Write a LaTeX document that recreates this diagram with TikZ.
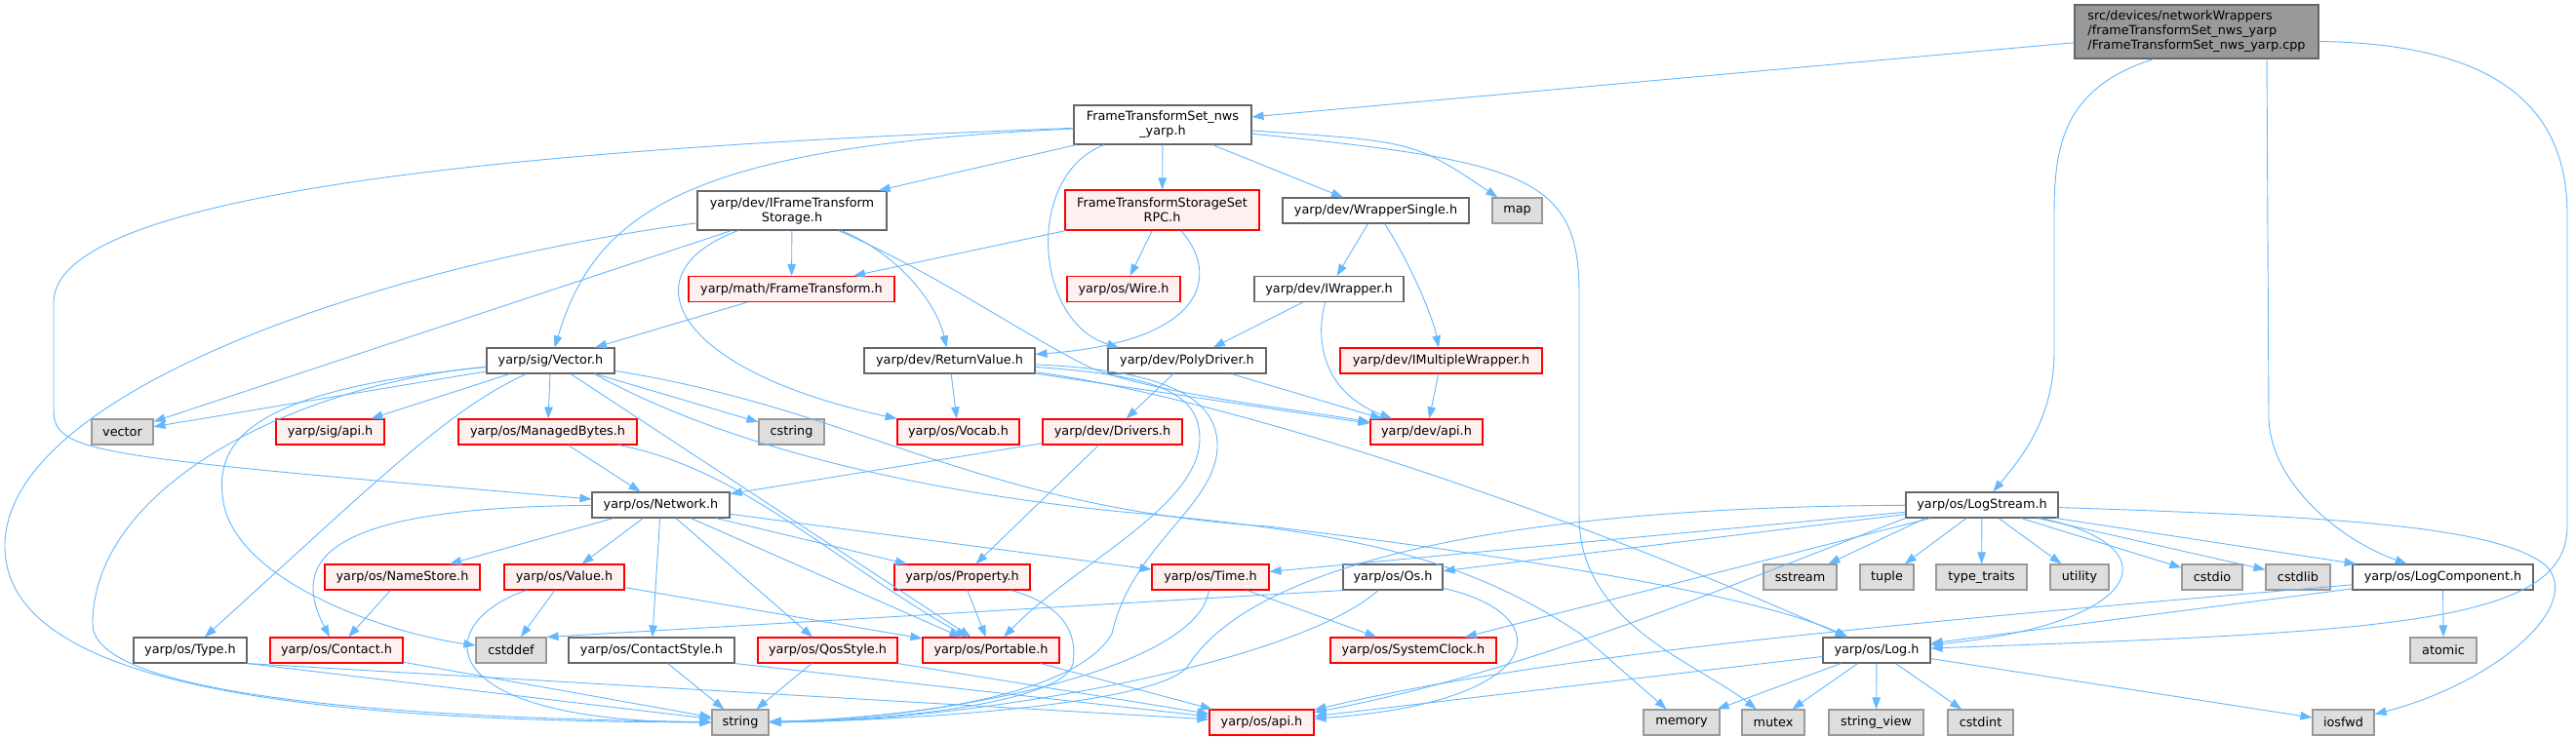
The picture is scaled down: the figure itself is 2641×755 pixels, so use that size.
\documentclass[tikz,border=0pt]{standalone}
\usepackage{fontspec}
\setmainfont{DejaVu Sans}
\usetikzlibrary{arrows.meta}
\definecolor{edgec}{HTML}{63B8FF}
\definecolor{gfourty}{HTML}{666666}
\definecolor{gsixty}{HTML}{999999}
\definecolor{geightyseven}{HTML}{DEDEDE}
\definecolor{rfill}{HTML}{FFF0F0}
\definecolor{rborder}{HTML}{FF0000}
\begin{document}
\begin{tikzpicture}[x=1pt,y=-1pt,
  base/.style={rectangle, line width=1.1pt, inner sep=0pt, font=\fontsize{12.8}{15}\selectfont, align=center},
  wn/.style={base, draw=gfourty, fill=white},
  rn/.style={base, draw=rborder, fill=rfill},
  gn/.style={base, draw=gsixty, fill=geightyseven},
  sz/.style 2 args={minimum width=#1pt, minimum height=#2pt},
  dep/.style={draw=edgec, line width=0.9pt, -{Triangle[length=12pt,width=8.5pt]}}]
\useasboundingbox (0,0) rectangle (2641,755);
\fill[white] (0,0) rectangle (2641,755);
% nodes
\node[wn, sz={250}{55}, fill=gsixty, align=left] (root) at (2252,32.5) {src/devices/networkWrappers\\/frameTransformSet\_nws\_yarp\\/FrameTransformSet\_nws\_yarp.cpp};
\node[wn, sz={182}{40}] (hdr) at (1192,128) {FrameTransformSet\_nws\\\_yarp.h};
\node[wn, sz={194}{40}] (ifts) at (812,216) {yarp/dev/IFrameTransform\\Storage.h};
\node[rn, sz={199}{41}] (rpc) at (1191.5,215.5) {FrameTransformStorageSet\\RPC.h};
\node[wn, sz={191}{26}] (wsingle) at (1410.5,216) {yarp/dev/WrapperSingle.h};
\node[gn, sz={51}{26}] (map) at (1555.5,216) {map};
\node[rn, sz={211}{26}] (ftr) at (811.5,296.5) {yarp/math/FrameTransform.h};
\node[rn, sz={116}{26}] (wire) at (1152,296.5) {yarp/os/Wire.h};
\node[wn, sz={153}{26}] (iwrap) at (1362.5,296.5) {yarp/dev/IWrapper.h};
\node[wn, sz={131}{26}] (vec) at (564.5,370) {yarp/sig/Vector.h};
\node[wn, sz={175}{26}] (rv) at (973.5,370) {yarp/dev/ReturnValue.h};
\node[wn, sz={162}{26}] (poly) at (1217,370) {yarp/dev/PolyDriver.h};
\node[rn, sz={207}{26}] (imw) at (1477.5,370) {yarp/dev/IMultipleWrapper.h};
\node[gn, sz={63}{26}] (vector) at (125.5,443) {vector};
\node[rn, sz={111}{26}] (sigapi) at (338.5,443) {yarp/sig/api.h};
\node[rn, sz={183}{26}] (mbytes) at (561.5,443) {yarp/os/ManagedBytes.h};
\node[gn, sz={67}{26}] (cstring) at (811.5,443) {cstring};
\node[rn, sz={125}{26}] (vocab) at (982.5,443) {yarp/os/Vocab.h};
\node[rn, sz={143}{26}] (drivers) at (1140.5,443) {yarp/dev/Drivers.h};
\node[rn, sz={115}{26}] (devapi) at (1462.5,443) {yarp/dev/api.h};
\node[wn, sz={141}{26}] (net) at (677.5,518) {yarp/os/Network.h};
\node[wn, sz={156}{26}] (ls) at (2032,518) {yarp/os/LogStream.h};
\node[rn, sz={159}{26}] (names) at (412.5,592) {yarp/os/NameStore.h};
\node[rn, sz={123}{26}] (value) at (578.5,592) {yarp/os/Value.h};
\node[rn, sz={139}{26}] (prop) at (986.5,592) {yarp/os/Property.h};
\node[rn, sz={120}{26}] (time) at (1241,592) {yarp/os/Time.h};
\node[wn, sz={102}{26}] (os) at (1428,592) {yarp/os/Os.h};
\node[gn, sz={75}{26}] (sstream) at (1845.5,592) {sstream};
\node[gn, sz={55}{26}] (tuple) at (1934.5,592) {tuple};
\node[gn, sz={93}{26}] (ttraits) at (2031.5,592) {type\_traits};
\node[gn, sz={60}{26}] (utility) at (2132,592) {utility};
\node[gn, sz={62}{26}] (cstdio) at (2268,592) {cstdio};
\node[gn, sz={66}{26}] (cstdlib) at (2356,592) {cstdlib};
\node[wn, sz={185}{26}] (lcomp) at (2504.5,592) {yarp/os/LogComponent.h};
\node[wn, sz={116}{26}] (type) at (195,667) {yarp/os/Type.h};
\node[rn, sz={136}{26}] (contact) at (345,667) {yarp/os/Contact.h};
\node[gn, sz={72}{26}] (cstddef) at (524,667) {cstddef};
\node[wn, sz={170}{26}] (cstyle) at (668,667) {yarp/os/ContactStyle.h};
\node[rn, sz={143}{26}] (qos) at (848.5,667) {yarp/os/QosStyle.h};
\node[rn, sz={140}{26}] (portable) at (1016,667) {yarp/os/Portable.h};
\node[rn, sz={170}{26}] (sclock) at (1449,667) {yarp/os/SystemClock.h};
\node[wn, sz={110}{26}] (log) at (1924,667) {yarp/os/Log.h};
\node[gn, sz={68}{26}] (atomic) at (2505,667) {atomic};
\node[gn, sz={58}{26}] (string) at (759,741) {string};
\node[rn, sz={107}{26}] (osapi) at (1293.5,741) {yarp/os/api.h};
\node[gn, sz={78}{26}] (memory) at (1724,741) {memory};
\node[gn, sz={64}{26}] (mutex) at (1818,741) {mutex};
\node[gn, sz={97}{26}] (sview) at (1923.5,741) {string\_view};
\node[gn, sz={67}{26}] (cstdint) at (2030.5,741) {cstdint};
\node[gn, sz={63}{26}] (iosfwd) at (2402.5,741) {iosfwd};
% root
\draw[dep] (root) -- (hdr);
\draw[dep] ([xshift=-44pt]root.south) .. controls (2115,90) and (2106,150) .. (2106,220) -- (2106,360) .. controls (2106,430) and (2072,470) .. (ls);
\draw[dep] ([xshift=72pt]root.south) -- (2326,430) .. controls (2328,490) and (2390,550) .. (lcomp);
\draw[dep] ([yshift=-10pt]root.east) .. controls (2560,45) and (2632,110) .. (2632,220) -- (2632,540) .. controls (2632,640) and (2450,648) .. (log);
% header
\draw[dep] (hdr) -- (ifts);
\draw[dep] (hdr) -- (rpc);
\draw[dep] (hdr) -- (wsingle);
\draw[dep] (hdr) .. controls (1450,145) .. (map);
\draw[dep] (hdr) .. controls (1560,165) and (1619,180) .. (1619,300) -- (1619,530) .. controls (1619,640) and (1740,680) .. (mutex);
\draw[dep] ([xshift=-60pt]hdr.south) .. controls (1050,180) and (1060,330) .. ([xshift=-70pt]poly.north);
\draw[dep] (hdr) .. controls (600,150) and (55,190) .. (55,310) -- (55,420) .. controls (55,465) and (90,468) .. (net);
\draw[dep] (hdr) .. controls (700,150) and (610,220) .. (vec);
% IFrameTransformStorage
\draw[dep] (ifts) -- (ftr);
\draw[dep] (ifts) .. controls (920,260) and (960,310) .. (rv);
\draw[dep] (ifts) .. controls (640,280) and (690,380) .. (vocab);
\draw[dep] (ifts) .. controls (960,280) and (1060,350) .. (1120,378) .. controls (1190,405) and (1330,420) .. (devapi);
\draw[dep] (ifts) -- (vector);
\draw[dep] (ifts) .. controls (400,270) and (5,400) .. (5,560) .. controls (5,690) and (250,740) .. (string);
% RPC
\draw[dep] (rpc) -- (ftr);
\draw[dep] (rpc) -- (wire);
\draw[dep] (rpc) .. controls (1250,280) and (1240,350) .. (rv);
% wrappers
\draw[dep] (wsingle) -- (iwrap);
\draw[dep] (wsingle) .. controls (1440,260) and (1468,320) .. (imw);
\draw[dep] (iwrap) -- (poly);
\draw[dep] (iwrap) .. controls (1350,340) and (1350,400) .. (devapi);
\draw[dep] (poly) -- (drivers);
\draw[dep] (poly) -- (devapi);
\draw[dep] (imw) -- (devapi);
\draw[dep] (ftr) -- (vec);
% Vector
\draw[dep] (vec) -- (vector);
\draw[dep] (vec) -- (sigapi);
\draw[dep] (vec) -- (mbytes);
\draw[dep] (vec) -- (cstring);
\draw[dep] ([xshift=-25pt]vec.south) .. controls (460,420) and (390,490) .. (type);
\draw[dep] (vec) .. controls (300,395) and (95,500) .. (95,640) .. controls (95,700) and (300,735) .. (string);
\draw[dep] (vec) .. controls (260,400) and (215,450) .. (230,520) .. controls (250,600) and (400,650) .. (cstddef);
\draw[dep] (vec) -- (portable);
\draw[dep] (vec) .. controls (880,420) and (1000,520) .. (1300,540) .. controls (1550,570) and (1800,610) .. (log);
\draw[dep] ([xshift=45pt]vec.south) .. controls (720,445) and (900,500) .. (1150,525) .. controls (1380,545) and (1500,570) .. (1620,650) -- (memory);
% ReturnValue
\draw[dep] (rv) -- (vocab);
\draw[dep] (rv) -- (devapi);
\draw[dep] (rv) .. controls (1200,400) and (1500,480) .. (log);
\draw[dep] (rv) .. controls (1180,385) and (1230,400) .. (1230,450) .. controls (1230,520) and (1100,580) .. (portable);
\draw[dep] (rv) .. controls (1200,380) and (1250,410) .. (1248,460) .. controls (1245,520) and (1160,560) .. (1140,650) .. controls (1100,720) and (900,738) .. (string);
% Drivers, ManagedBytes
\draw[dep] (drivers) -- (net);
\draw[dep] (drivers) -- (prop);
\draw[dep] (mbytes) -- (net);
\draw[dep] (mbytes) .. controls (760,480) and (860,580) .. (portable);
% Network
\draw[dep] (net) .. controls (320,520) and (300,580) .. (contact);
\draw[dep] (net) -- (names);
\draw[dep] (net) -- (value);
\draw[dep] (net) -- (cstyle);
\draw[dep] (net) -- (qos);
\draw[dep] (net) -- (portable);
\draw[dep] (net) -- (prop);
\draw[dep] (net) -- (time);
% middle layer
\draw[dep] (names) -- (contact);
\draw[dep] (value) -- (cstddef);
\draw[dep] (value) .. controls (440,640) and (440,740) .. (string);
\draw[dep] (value) -- (portable);
\draw[dep] (prop) -- (portable);
\draw[dep] (prop) .. controls (1090,620) and (1105,650) .. (1100,680) .. controls (1095,715) and (950,738) .. (string);
\draw[dep] (time) -- (sclock);
\draw[dep] (time) .. controls (1230,680) and (1000,735) .. (string);
\draw[dep] (os.south west) -- (cstddef.north east);
\draw[dep] (os) .. controls (1330,680) and (1000,740) .. (string);
\draw[dep] (os) .. controls (1600,630) and (1590,720) .. (osapi);
% lower layer
\draw[dep] (portable) -- (osapi);
\draw[dep] (contact) -- (string);
\draw[dep] (type.south east) -- (string);
\draw[dep] (type.south east) -- (osapi);
\draw[dep] (cstyle) -- (string);
\draw[dep] (cstyle.south east) -- (osapi);
\draw[dep] (qos) -- (string);
\draw[dep] (qos.south east) -- (osapi);
% LogStream
\draw[dep] ([xshift=-58pt]ls.south) -- (sstream);
\draw[dep] ([xshift=-16pt]ls.south) -- (tuple);
\draw[dep] (ls) -- (ttraits);
\draw[dep] ([xshift=17pt]ls.south) -- (utility);
\draw[dep] ([xshift=40pt]ls.south) -- (cstdio);
\draw[dep] ([xshift=57pt]ls.south) -- (cstdlib);
\draw[dep] ([xshift=76pt]ls.south) -- (lcomp);
\draw[dep] ([xshift=60pt]ls.south) .. controls (2230,560) and (2200,640) .. (log);
\draw[dep] (ls) .. controls (2400,530) and (2560,540) .. (2610,580) .. controls (2650,620) and (2560,700) .. (iosfwd);
\draw[dep] (ls) -- (time);
\draw[dep] (ls) -- (os);
\draw[dep] (ls) -- (sclock);
\draw[dep] (ls.south west) .. controls (1750,610) and (1560,690) .. (osapi);
\draw[dep] (ls) .. controls (1500,520) and (1280,590) .. (1220,680) .. controls (1200,725) and (900,740) .. (string);
% LogComponent
\draw[dep] (lcomp) -- (atomic);
\draw[dep] (lcomp) -- (log);
\draw[dep] (lcomp) .. controls (2000,635) and (1600,668) .. (osapi);
% Log
\draw[dep] (log) -- (memory);
\draw[dep] (log) -- (mutex);
\draw[dep] (log) -- (sview);
\draw[dep] (log) -- (cstdint);
\draw[dep] (log) -- (iosfwd);
\draw[dep] (log) -- (osapi);
\end{tikzpicture}
\end{document}
